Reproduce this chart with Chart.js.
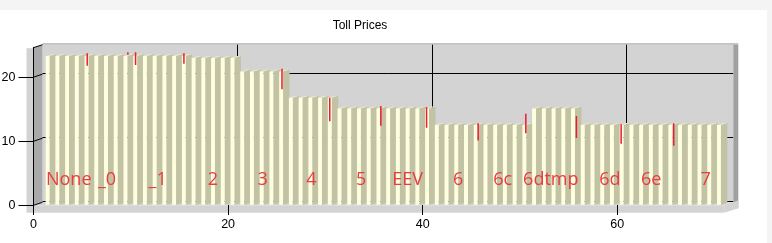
<!DOCTYPE html>
<html>
<head>
<meta charset="utf-8">
<title>Toll Prices</title>
<script src="https://cdn.jsdelivr.net/npm/chart.js@4.4.1/dist/chart.umd.min.js"></script>
<style>
  html, body { margin: 0; padding: 0; background: #fff; }
  #c { display: block; }
</style>
</head>
<body>
<canvas id="c" width="772" height="243"></canvas>
<script>
// one bar per vehicle class record, read left to right
const tollPrices = [
    23.3, 23.3, 23.3, 23.3, 23.3, 23.3, 23.3, 23.3, 23.3, 23.3,
    23.3, 23.3, 23.3, 23.3, 23.3, 23.0, 23.0, 23.0, 23.0, 23.0,
    20.9, 20.9, 20.9, 20.9, 20.9, 16.8, 16.8, 16.8, 16.8, 16.8,
    15.1, 15.1, 15.1, 15.1, 15.1, 15.1, 15.1, 15.1, 15.1, 15.1,
    12.55, 12.55, 12.55, 12.55, 12.55, 12.55, 12.55, 12.55, 12.55, 12.55,
    15.1, 15.1, 15.1, 15.1, 15.1, 12.55, 12.55, 12.55, 12.55, 12.55,
    12.55, 12.55, 12.55, 12.55, 12.55, 12.55, 12.55, 12.55, 12.55, 12.55
];

// red class names written across the bars, and where they sit on the x axis
const classNames = ['None', '_0', '_1', '2', '3', '4', '5', 'EEV', '6', '6c', '6dtmp', '6d', '6e', '7'];
const classAt = [3.62, 7.56, 12.76, 18.45, 23.54, 28.57, 33.67, 38.46, 43.64, 48.23, 53.17, 59.23, 63.48, 69.08];
const classLabelY = 3.2;

// small red strokes near the bar tops
const spikeX = [5.52, 9.70, 10.49, 15.46, 25.54, 30.45, 35.7, 40.4, 45.7, 50.6, 55.8, 60.4, 65.8];
const spikeLow = [21.8, 23.5, 21.9, 22.1, 18.1, 13.1, 12.4, 12.1, 10.1, 11.25, 10.5, 9.6, 9.3];
const spikeHigh = [23.75, 23.9, 23.9, 23.75, 21.3, 16.8, 15.5, 15.3, 12.8, 14.3, 13.95, 12.65, 12.8];

const xTicks = [0, 20, 40, 60];
const yTicks = [0, 10, 20];

// 3D look: offset of the back wall and of the bar depth
const WALL_DX = 9, WALL_DY = -3;
const BAR_DX = 6.5, BAR_DY = -2;

function poly(ctx, pts, color) {
    ctx.beginPath();
    ctx.moveTo(pts[0][0], pts[0][1]);
    for (let i = 1; i < pts.length; i++) ctx.lineTo(pts[i][0], pts[i][1]);
    ctx.closePath();
    ctx.fillStyle = color;
    ctx.fill();
}

const scene3d = {
    id: 'scene3d',
    beforeDraw(chart) {
        const { ctx, chartArea: a } = chart;
        const x = chart.scales.x, y = chart.scales.y;
        ctx.save();
        ctx.fillStyle = '#ffffff';
        ctx.fillRect(0, 0, chart.width, chart.height);
        ctx.fillStyle = '#f4f4f4';
        ctx.fillRect(0, 0, chart.width, 10);
        ctx.fillRect(chart.width - 5, 0, 5, chart.height);

        const bl = a.left + WALL_DX, br = a.right + WALL_DX;
        const bt = a.top + WALL_DY, bb = a.bottom + WALL_DY;

        // back wall
        ctx.fillStyle = '#d3d3d3';
        ctx.fillRect(bl, bt, br - bl, bb - bt);
        ctx.fillStyle = '#b6b6b6';
        ctx.fillRect(bl, bt - 1.5, br - bl + 5, 1.5);

        // left wall
        poly(ctx, [[a.left, a.top], [bl, bt], [bl, bb], [a.left, a.bottom]], '#a9a9a9');
        // floor top
        poly(ctx, [[a.left, a.bottom], [a.right, a.bottom], [br, bb], [bl, bb]], '#d3d3d3');

        // grid lines on the back wall
        ctx.strokeStyle = '#000';
        ctx.lineWidth = 1;
        ctx.beginPath();
        yTicks.forEach(v => {
            const py = Math.round(y.getPixelForValue(v) + WALL_DY) - 0.5;
            ctx.moveTo(bl, py);
            ctx.lineTo(br, py);
        });
        xTicks.forEach(v => {
            if (v === 0) return;
            const px = Math.round(x.getPixelForValue(v) + WALL_DX) + 0.5;
            ctx.moveTo(px, bt);
            ctx.lineTo(px, bb);
        });
        ctx.stroke();

        // right wall and front edges of the walls
        ctx.fillStyle = '#a0a0a0';
        ctx.fillRect(br, bt, 5, a.bottom - bt + 3);
        ctx.fillStyle = '#d3d3d3';
        ctx.fillRect(a.left - 7, a.bottom, a.right - a.left + 7, 7.4);
        ctx.fillRect(a.left - 7, a.top + 0.5, 7, a.bottom - a.top);
        poly(ctx, [[a.right, a.bottom], [br, bb], [br + 5, bb - 1.7], [br + 5, a.bottom + 3], [a.right, a.bottom + 7.4]], '#d3d3d3');

        // tick lines running into the left wall, and its top edge
        ctx.beginPath();
        yTicks.concat([y.max]).forEach(v => {
            const py = y.getPixelForValue(v);
            ctx.moveTo(a.left, py);
            ctx.lineTo(bl, py + WALL_DY);
        });
        ctx.stroke();
        ctx.restore();
    },
    beforeDatasetsDraw(chart) {
        const ctx = chart.ctx;
        const meta = chart.getDatasetMeta(1);
        ctx.save();
        meta.data.forEach(bar => {
            const half = bar.width / 2;
            const x0 = bar.x - half, x1 = bar.x + half;
            poly(ctx, [[x1, bar.y], [x1 + BAR_DX, bar.y + BAR_DY], [x1 + BAR_DX, bar.base + BAR_DY], [x1, bar.base]], '#c2c2a5');
            poly(ctx, [[x0, bar.y], [x1, bar.y], [x1 + BAR_DX, bar.y + BAR_DY], [x0 + BAR_DX, bar.y + BAR_DY]], '#e6e6c9');
        });
        ctx.restore();
    },
    afterDatasetsDraw(chart) {
        const ctx = chart.ctx;
        const x = chart.scales.x, y = chart.scales.y;
        ctx.save();
        ctx.font = '18px "Open Sans"';
        ctx.fillStyle = '#ec3a3f';
        ctx.textAlign = 'center';
        ctx.textBaseline = 'alphabetic';
        classNames.forEach((name, i) => {
            ctx.fillText(name, x.getPixelForValue(classAt[i]), y.getPixelForValue(classLabelY));
        });
        ctx.restore();
    },
    afterDraw(chart) {
        const ctx = chart.ctx;
        ctx.save();
        ctx.font = '12px "Liberation Sans"';
        ctx.fillStyle = '#000';
        ctx.textAlign = 'center';
        ctx.textBaseline = 'alphabetic';
        ctx.fillText('Toll Prices', 360, 29);
        ctx.restore();
    }
};

// red strokes as short vertical segments, broken by gaps
const spikeData = [];
spikeX.forEach((sx, i) => {
    spikeData.push({ x: sx, y: spikeLow[i] });
    spikeData.push({ x: sx, y: spikeHigh[i] });
    spikeData.push({ x: sx, y: null });
});

const tickFont = { family: 'Liberation Sans', size: 12.5 };

new Chart(document.getElementById('c'), {
    type: 'bar',
    data: {
        datasets: [{
            type: 'line',
            label: 'marks',
            data: spikeData,
            xAxisID: 'x',
            yAxisID: 'y',
            borderColor: '#ee1c2e',
            borderWidth: 1.5,
            pointRadius: 0,
            spanGaps: false,
            order: 0
        }, {
            type: 'bar',
            label: 'Toll Prices',
            data: tollPrices.map((v, i) => ({ x: i + 1, y: v })),
            xAxisID: 'xb',
            yAxisID: 'y',
            backgroundColor: '#ffffe0',
            borderWidth: 0,
            barPercentage: 0.8,
            categoryPercentage: 1,
            order: 1
        }]
    },
    options: {
        responsive: false,
        devicePixelRatio: 1,
        animation: false,
        layout: { padding: { left: 0, top: 47.7, right: 47.7, bottom: 0 } },
        plugins: {
            legend: { display: false },
            tooltip: { enabled: false },
            title: { display: false }
        },
        scales: {
            x: {
                type: 'linear',
                min: 0,
                max: 71,
                offset: false,
                afterBuildTicks: s => { s.ticks = xTicks.map(v => ({ value: v })); },
                afterFit: s => { s.height = 37.7; },
                grid: { offset: false, drawOnChartArea: false, tickLength: 9.7, color: '#000' },
                border: { display: false },
                ticks: { color: '#000', font: tickFont, padding: 2, maxRotation: 0 }
            },
            xb: {
                type: 'linear',
                display: false,
                min: -0.2,
                max: 70.8,
                offset: false,
                grid: { offset: false },
                afterBuildTicks: s => { s.ticks = [{ value: 35 }]; }
            },
            y: {
                type: 'linear',
                min: 0,
                max: 24.6,
                afterBuildTicks: s => { s.ticks = yTicks.map(v => ({ value: v })); },
                afterFit: s => { s.width = 33.5; },
                grid: { drawOnChartArea: false, tickLength: 15, color: '#000' },
                border: { display: true, color: '#000', width: 1 },
                ticks: { color: '#000', font: tickFont, padding: 3 }
            }
        }
    },
    plugins: [scene3d]
});
</script>
</body>
</html>
